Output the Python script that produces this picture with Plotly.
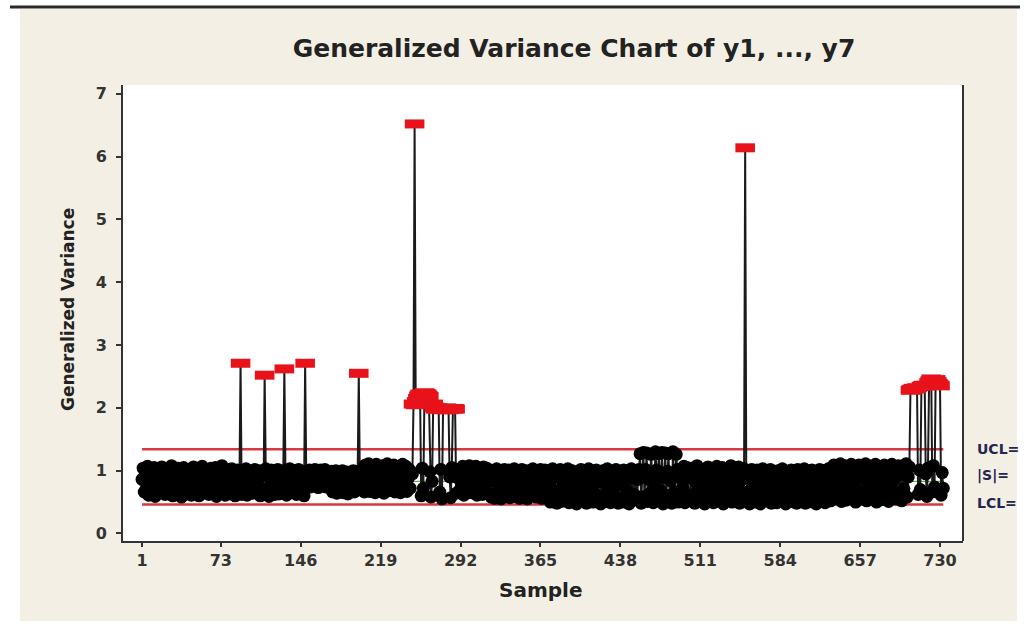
import plotly.graph_objects as go

# Generalized variance |S| per sample (samples 1..733)
gv_001_100 = [
    0.86, 1.04, 0.66, 0.95, 0.72, 1.07, 0.61, 0.90, 0.99, 0.68, 0.83, 1.05, 0.59, 0.94, 0.77, 1.02, 0.64, 0.88, 1.06, 0.70,
    0.97, 0.62, 0.85, 1.03, 0.67, 0.92, 0.75, 1.08, 0.60, 0.89, 1.00, 0.65, 0.81, 1.04, 0.71, 0.96, 0.58, 0.87, 1.05, 0.69,
    0.93, 0.63, 1.02, 0.78, 0.99, 0.61, 0.84, 1.06, 0.66, 0.91, 0.73, 1.03, 0.60, 0.95, 0.80, 1.07, 0.64, 0.88, 0.98, 0.70,
    1.01, 0.62, 0.86, 1.04, 0.67, 0.93, 0.76, 1.05, 0.59, 0.90, 0.97, 0.65, 0.83, 1.08, 0.72, 0.94, 0.61, 0.87, 1.02, 0.68,
    0.96, 0.63, 1.03, 0.79, 0.92, 0.60, 0.85, 1.01, 0.66, 0.89, 2.71, 0.62, 0.82, 0.97, 0.70, 1.03, 0.61, 0.88, 0.94, 0.67,
]
gv_101_200 = [
    0.99, 0.64, 0.86, 1.02, 0.69, 0.93, 0.74, 1.00, 0.60, 0.91, 0.97, 0.66, 2.52, 1.03, 0.71, 0.95, 0.59, 0.87, 1.01, 0.68,
    0.94, 0.62, 0.99, 0.77, 1.02, 0.63, 0.84, 0.97, 0.67, 0.92, 2.62, 1.01, 0.61, 0.89, 0.80, 1.03, 0.65, 0.86, 0.98, 0.70,
    1.00, 0.62, 0.88, 1.02, 0.68, 0.94, 0.75, 0.99, 0.60, 2.71, 0.96, 0.76, 0.84, 1.01, 0.74, 0.95, 0.78, 0.92, 1.02, 0.76,
    0.98, 0.73, 0.89, 1.01, 0.77, 0.94, 0.80, 1.02, 0.74, 0.91, 0.97, 0.75, 0.86, 0.99, 0.66, 0.93, 0.70, 1.00, 0.64, 0.88,
    0.97, 0.68, 0.83, 1.00, 0.65, 0.91, 0.74, 0.98, 0.63, 0.87, 0.95, 0.69, 0.80, 1.00, 0.66, 0.93, 0.71, 0.99, 2.55, 0.86,
]
gv_201_300 = [
    0.96, 0.70, 1.00, 0.66, 1.09, 0.75, 0.94, 1.11, 0.67, 0.88, 1.04, 0.72, 0.99, 0.65, 1.10, 0.81, 0.93, 1.06, 0.69, 0.90,
    1.08, 0.64, 0.97, 0.78, 1.11, 0.68, 0.86, 1.03, 0.71, 0.95, 1.09, 0.66, 0.84, 1.05, 0.73, 0.99, 0.65, 0.91, 1.10, 0.70,
    0.94, 1.07, 0.67, 0.87, 1.02, 0.72, 0.98, 0.95, 2.06, 6.52, 2.05, 2.10, 2.15, 2.19, 2.22, 0.60, 1.04, 0.72, 2.24, 2.23,
    2.22, 2.20, 2.18, 0.98, 0.58, 0.83, 2.06, 2.01, 1.98, 1.99, 2.00, 1.98, 0.66, 1.02, 0.55, 1.98, 1.97, 1.99, 2.00, 1.98,
    1.97, 0.90, 0.57, 1.05, 1.98, 1.99, 1.98, 0.64, 0.89, 1.02, 0.68, 0.96, 0.75, 1.07, 0.61, 0.92, 1.04, 0.66, 0.85, 1.08,
]
gv_301_400 = [
    0.98, 0.65, 1.05, 0.73, 0.93, 1.07, 0.61, 0.87, 1.01, 0.69, 0.95, 0.62, 1.06, 0.78, 0.91, 1.04, 0.64, 0.88, 1.00, 0.58,
    0.84, 0.97, 0.56, 0.92, 1.03, 0.66, 0.80, 0.99, 0.55, 0.89, 0.74, 1.02, 0.60, 0.94, 0.68, 1.01, 0.57, 0.86, 0.96, 0.63,
    1.03, 0.59, 0.90, 0.72, 0.98, 0.56, 0.85, 1.02, 0.64, 0.93, 0.77, 1.00, 0.55, 0.88, 0.97, 0.61, 0.83, 1.03, 0.67, 0.91,
    0.58, 0.99, 0.70, 0.87, 1.02, 0.56, 0.94, 0.66, 1.01, 0.60, 0.89, 0.75, 0.98, 0.50, 0.86, 1.03, 0.54, 0.92, 0.68, 0.48,
    0.96, 0.62, 1.02, 0.51, 0.84, 0.99, 0.57, 0.91, 0.73, 1.03, 0.49, 0.88, 0.65, 1.00, 0.53, 0.94, 0.79, 0.47, 0.97, 0.60,
]
gv_401_500 = [
    0.87, 1.02, 0.52, 0.93, 0.69, 0.99, 0.48, 0.85, 1.03, 0.58, 0.91, 0.74, 0.50, 0.97, 0.63, 1.01, 0.55, 0.89, 0.95, 0.47,
    0.82, 1.00, 0.60, 0.92, 0.51, 1.03, 0.71, 0.86, 0.49, 0.98, 0.66, 0.94, 0.53, 1.02, 0.77, 0.48, 0.90, 0.99, 0.57, 0.84,
    1.01, 0.50, 0.93, 0.68, 0.97, 0.47, 0.88, 1.03, 0.57, 0.92, 0.62, 0.99, 0.54, 0.86, 1.02, 1.27, 0.48, 0.91, 1.29, 0.59,
    1.02, 1.28, 0.51, 0.86, 0.64, 1.26, 0.97, 0.49, 0.80, 1.30, 1.01, 0.56, 1.27, 0.93, 0.68, 1.29, 0.47, 0.89, 1.28, 0.61,
    0.99, 1.27, 0.53, 0.84, 0.48, 1.30, 0.95, 0.66, 1.26, 1.02, 0.50, 0.90, 0.58, 0.97, 0.73, 1.07, 0.49, 0.92, 1.05, 0.55,
]
gv_501_600 = [
    0.55, 0.88, 1.04, 0.62, 0.96, 0.48, 0.81, 1.08, 0.69, 0.93, 0.51, 1.01, 0.75, 0.87, 0.47, 0.99, 0.64, 1.06, 0.56, 0.90,
    0.72, 1.03, 0.49, 0.94, 0.60, 1.07, 0.83, 0.52, 0.98, 0.67, 1.05, 0.47, 0.89, 0.76, 1.02, 0.54, 0.95, 0.63, 1.08, 0.50,
    0.86, 1.00, 0.58, 0.92, 0.70, 1.06, 0.48, 0.84, 0.97, 0.61, 1.03, 6.14, 0.91, 0.66, 0.99, 0.47, 0.88, 1.02, 0.57, 0.79,
    0.96, 0.50, 1.01, 0.68, 0.87, 0.47, 0.94, 1.03, 0.59, 0.82, 0.99, 0.52, 0.90, 0.73, 1.02, 0.48, 0.85, 0.97, 0.63, 0.91,
    0.49, 1.00, 0.71, 0.88, 0.55, 1.03, 0.65, 0.93, 0.47, 0.86, 0.98, 0.60, 0.79, 1.01, 0.51, 0.95, 0.69, 0.89, 0.48, 1.02,
]
gv_601_700 = [
    0.62, 0.91, 0.53, 0.97, 0.74, 1.03, 0.48, 0.87, 0.99, 0.58, 0.84, 0.66, 1.01, 0.50, 0.93, 0.77, 0.47, 0.96, 0.64, 1.02,
    0.55, 0.89, 0.72, 1.00, 0.49, 0.94, 0.61, 1.03, 0.83, 0.52, 0.98, 0.69, 1.09, 0.56, 0.92, 1.06, 0.60, 0.85, 1.11, 0.51,
    0.96, 0.74, 1.08, 0.53, 0.89, 1.02, 0.63, 0.94, 1.10, 0.57, 0.81, 1.05, 0.50, 0.99, 0.68, 1.09, 0.55, 0.91, 1.03, 0.66,
    0.87, 1.11, 0.52, 0.95, 0.73, 1.07, 0.58, 0.90, 1.01, 0.62, 1.10, 0.50, 0.84, 0.98, 0.70, 1.06, 0.54, 0.93, 1.09, 0.65,
    0.88, 1.02, 0.51, 0.97, 0.76, 1.10, 0.59, 0.86, 1.04, 0.55, 0.92, 1.08, 0.64, 0.99, 0.52, 1.05, 0.71, 0.94, 1.11, 0.58,
]
gv_701_733 = [
    0.90, 1.06, 2.28, 2.29, 2.30, 2.31, 2.30, 2.31, 2.32, 0.62, 1.01, 0.70, 2.34, 2.35, 2.36, 2.35, 0.95, 0.59, 1.04, 2.40,
    2.43, 2.46, 0.66, 1.08, 0.74, 2.45, 2.42, 2.39, 2.37, 2.35, 0.61, 0.97, 0.72,
]

# control limits
ucl = 1.34
center = 0.83
lcl = 0.46

x_ticks = [1, 73, 146, 219, 292, 365, 438, 511, 584, 657, 730]
y_ticks = [0, 1, 2, 3, 4, 5, 6, 7]

gv = (gv_001_100 + gv_101_200 + gv_201_300 + gv_301_400 +
      gv_401_500 + gv_501_600 + gv_601_700 + gv_701_733)
sample = list(range(1, len(gv) + 1))
n = len(gv)

in_x = [s for s, v in zip(sample, gv) if lcl <= v <= ucl]
in_y = [v for v in gv if lcl <= v <= ucl]
out_x = [s for s, v in zip(sample, gv) if not (lcl <= v <= ucl)]
out_y = [v for v in gv if not (lcl <= v <= ucl)]

# plot area in pixels (figure is 1034 x 624)
PL, PR, PT, PB = 123, 963, 85, 541


def px(x):
    return (x - PL) / (PR - PL)


def py(y):
    return (PB - y) / (PB - PT)


FONT = "DejaVu Sans"
bold = dict(family=FONT, weight="bold")

fig = go.Figure()
fig.add_trace(go.Scatter(x=[1, n], y=[ucl, ucl], mode="lines",
                         line=dict(color="#d8383f", width=2.5), hoverinfo="skip"))
fig.add_trace(go.Scatter(x=[1, n], y=[lcl, lcl], mode="lines",
                         line=dict(color="#d8383f", width=2.5), hoverinfo="skip"))
fig.add_trace(go.Scatter(x=[1, n], y=[center, center], mode="lines",
                         line=dict(color="#2f9a3a", width=1), hoverinfo="skip"))
fig.add_trace(go.Scatter(x=sample, y=gv, mode="lines",
                         line=dict(color="#1a1a1a", width=2)))
fig.add_trace(go.Scatter(x=in_x, y=in_y, mode="markers",
                         marker=dict(symbol="circle", size=13, color="black")))
fig.add_trace(go.Scatter(x=out_x, y=out_y, mode="markers",
                         marker=dict(symbol="line-ew", size=14,
                                     line=dict(color="#e8121b", width=9))))

shapes = [
    # white frame around the beige panel
    dict(type="rect", xref="paper", yref="paper", x0=px(0), x1=px(20), y0=py(624), y1=py(0),
         fillcolor="white", line_width=0, layer="below"),
    dict(type="rect", xref="paper", yref="paper", x0=px(1017), x1=px(1034), y0=py(624), y1=py(0),
         fillcolor="white", line_width=0, layer="below"),
    dict(type="rect", xref="paper", yref="paper", x0=px(0), x1=px(1034), y0=py(9), y1=py(0),
         fillcolor="white", line_width=0, layer="below"),
    dict(type="rect", xref="paper", yref="paper", x0=px(0), x1=px(1034), y0=py(624), y1=py(621),
         fillcolor="white", line_width=0, layer="below"),
    # dark rule across the top
    dict(type="line", xref="paper", yref="paper", x0=px(10), x1=px(1020), y0=py(7), y1=py(7),
         line=dict(color="#2a2a2a", width=3)),
    # right border of the data region
    dict(type="line", xref="paper", yref="paper", x0=1, x1=1, y0=0, y1=1,
         line=dict(color="#333333", width=2)),
]

label_font = dict(family=FONT, weight="bold", size=14, color="#23264f")
annotations = [
    dict(text="Generalized Variance", xref="paper", yref="paper", x=px(68), y=py(310),
         xanchor="center", yanchor="middle", textangle=-90, showarrow=False,
         font=dict(**bold, size=17, color="#222222")),
    dict(text="Sample", xref="paper", yref="paper", x=px(540), y=py(590),
         xanchor="center", yanchor="middle", showarrow=False,
         font=dict(**bold, size=20, color="#222222")),
    dict(text="UCL=", xref="paper", yref="paper", x=px(975), y=py(449), xanchor="left",
         yanchor="middle", showarrow=False, font=label_font),
    dict(text="|S|=", xref="paper", yref="paper", x=px(975), y=py(475), xanchor="left",
         yanchor="middle", showarrow=False, font=label_font),
    dict(text="LCL=", xref="paper", yref="paper", x=px(975), y=py(503), xanchor="left",
         yanchor="middle", showarrow=False, font=label_font),
]

axis_common = dict(
    showgrid=False, zeroline=False, showline=True, linecolor="#333333", linewidth=2,
    ticks="outside", tickcolor="#333333", tickwidth=1.5,
    tickfont=dict(**bold, size=16, color="#333333"),
)

fig.update_layout(
    width=1034, height=624,
    margin=dict(l=PL, r=1034 - PR, t=PT, b=624 - PB),
    paper_bgcolor="#f4efe4",
    plot_bgcolor="white",
    showlegend=False,
    title=dict(text="Generalized Variance Chart of y1, ..., y7",
               xref="container", x=574 / 1034, xanchor="center",
               yref="container", y=1 - 48 / 624, yanchor="middle",
               font=dict(**bold, size=25, color="#222222")),
    xaxis=dict(range=[-16.4, 751], tickvals=x_ticks, ticklen=4, **axis_common),
    yaxis=dict(range=[-0.12, 7.14], tickvals=y_ticks, ticklen=5,
               ticklabelstandoff=6, **axis_common),
    shapes=shapes,
    annotations=annotations,
)

fig.write_html("out.html", config={"displayModeBar": False},
               post_script="document.body.style.margin = '0';")
